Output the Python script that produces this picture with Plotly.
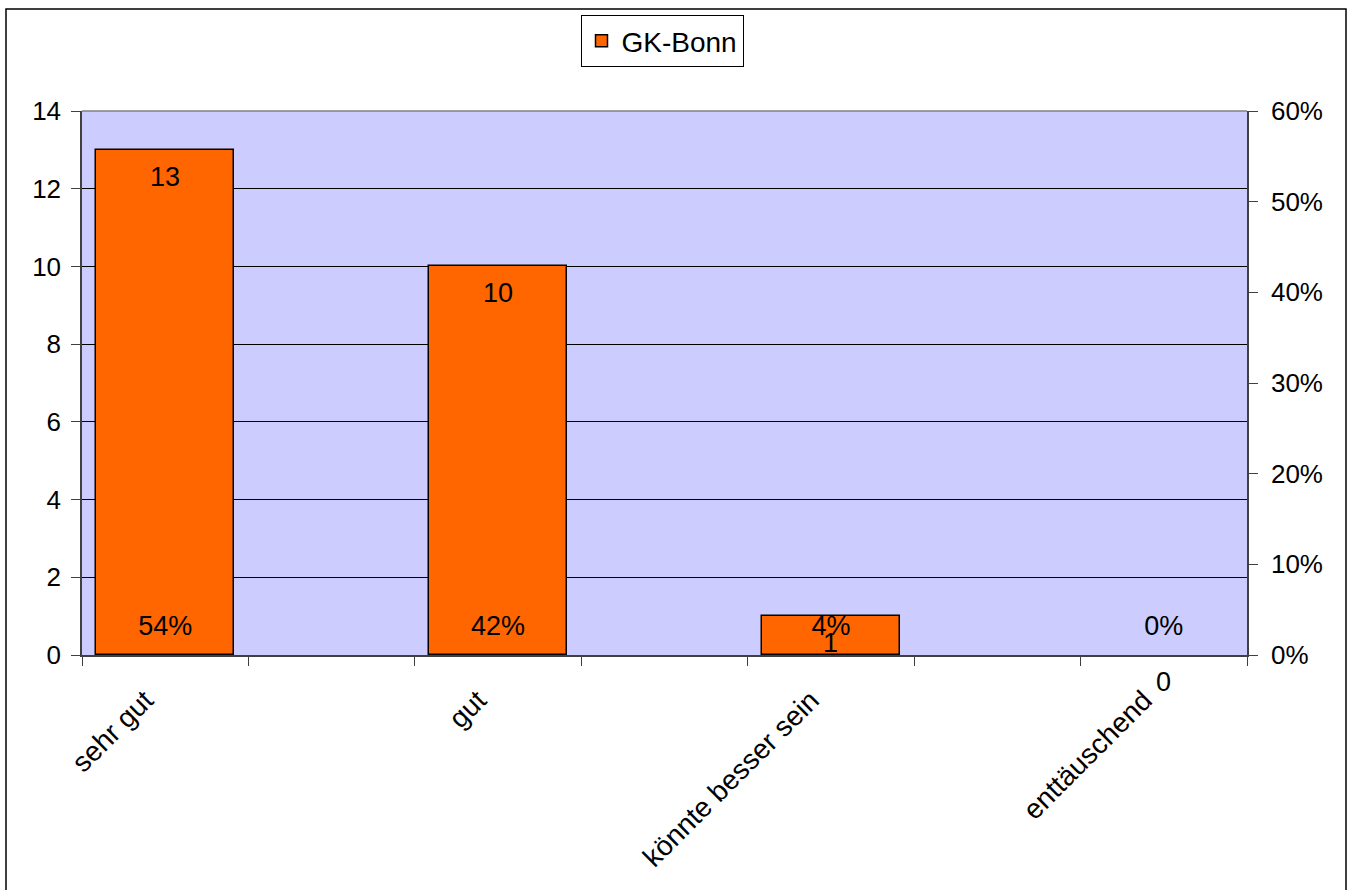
import plotly.graph_objects as go

categories = ["sehr gut", "gut", "könnte besser sein", "enttäuschend"]
counts = [13, 10, 1, 0]
percents = [0.54, 0.42, 0.04, 0.0]
percent_labels = ["54%", "42%", "4%", "0%"]
series_name = "GK-Bonn"

FONT = "Liberation Sans, Arial, sans-serif"
W, H = 1353, 890
ML, MR, MT, MB = 82, W - 1247, 111, H - 655
PW, PH = W - ML - MR, H - MT - MB

# category slots: each category takes 2 tick intervals, bar sits in the first
xpos = [2 * i + 0.5 for i in range(len(categories))]
nslots = 2 * len(categories) - 1

Y_MAX = 14
pct_off = 27 / PH * 0.6             # percent label above base (y2 units)

fig = go.Figure()
fig.add_trace(go.Bar(
    x=xpos, y=counts, name=series_name, width=0.83,
    marker=dict(color="#FF6600",
                line=dict(color="black", width=[1.5 if c > 0 else 0 for c in counts])),
    showlegend=True, hoverinfo="skip",
))
fig.add_trace(go.Scatter(
    x=xpos, y=[pct_off for _ in percents], mode="text", yaxis="y2",
    text=percent_labels, textposition="middle center",
    textfont=dict(family=FONT, size=27, color="black"),
    showlegend=False, cliponaxis=False, hoverinfo="skip",
))

annotations = [
    dict(x=x, y=c, xref="x", yref="y", text=str(c), showarrow=False,
         yshift=-27, font=dict(family=FONT, size=27, color="black"))
    for x, c in zip(xpos, counts)
]

fig.update_layout(
    width=W, height=H,
    margin=dict(l=ML, r=MR, t=MT, b=MB, pad=0),
    paper_bgcolor="white", plot_bgcolor="#CCCCFF",
    font=dict(family=FONT, size=26, color="black"),
    bargap=0,
    annotations=annotations,
    xaxis=dict(
        range=[0, nslots], tickmode="array", tickvals=xpos, ticktext=categories,
        tickangle=-45, ticks="", showgrid=False, zeroline=False,
        showline=True, linecolor="#404040", linewidth=1.5,
        tickfont=dict(size=28), ticklabelstandoff=16, ticklabelshift=-20,
        minor=dict(tickmode="linear", tick0=0, dtick=1, ticks="outside",
                   ticklen=9, tickcolor="#404040", tickwidth=1, showgrid=False),
        fixedrange=True,
    ),
    yaxis=dict(
        range=[0, Y_MAX], dtick=2, ticks="outside", ticklen=9, tickcolor="#404040",
        showgrid=True, gridcolor="black", gridwidth=1, zeroline=False,
        showline=True, linecolor="#404040", linewidth=1.5,
        tickfont=dict(size=26), ticklabelstandoff=5,
    ),
    yaxis2=dict(
        range=[0, 0.6], dtick=0.1, tickformat=".0%", overlaying="y", side="right",
        ticks="outside", ticklen=9, tickcolor="#404040",
        showgrid=False, zeroline=False,
        showline=True, linecolor="#404040", linewidth=1.5,
        tickfont=dict(size=26), ticklabelstandoff=8,
    ),
    legend=dict(
        x=(662 - ML) / PW, y=(H - MB - 15) / PH, xanchor="center", yanchor="top",
        bgcolor="white", bordercolor="black", borderwidth=1,
        font=dict(family=FONT, size=28), itemwidth=30,
    ),
    shapes=[
        # top border of plot area
        dict(type="line", xref="paper", yref="paper", x0=0, x1=1, y0=1, y1=1,
             line=dict(color="#808080", width=1.5)),
        # outer chart frame
        dict(type="rect", xref="paper", yref="paper",
             x0=(6 - ML) / PW, x1=(1346 - ML) / PW,
             y0=(H - MB - 900) / PH, y1=(H - MB - 9) / PH,
             line=dict(color="black", width=1.5), layer="below"),
    ],
)

fig.write_html("out.html", config={"displayModeBar": False},
               post_script="document.body.style.margin='0';")
